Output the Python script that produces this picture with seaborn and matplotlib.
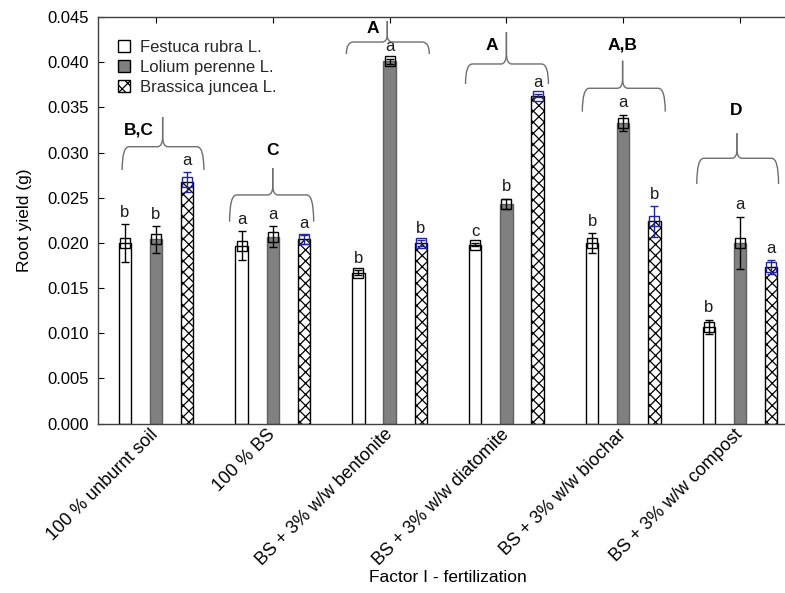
import numpy as np
import pandas as pd
import matplotlib
matplotlib.use("Agg")
import matplotlib.pyplot as plt
from matplotlib.path import Path
from matplotlib.patches import PathPatch, Patch
import seaborn as sns

# ---------------- data ----------------
categories = ["100 % unburnt soil", "100 % BS", "BS + 3% w/w bentonite",
              "BS + 3% w/w diatomite", "BS + 3% w/w biochar", "BS + 3% w/w compost"]
species = ["Festuca rubra L.", "Lolium perenne L.", "Brassica juncea L."]

festuca = [0.0200, 0.0197, 0.0167, 0.0198, 0.0200, 0.0107]
festuca_err = [0.0021, 0.0016, 0.0003, 0.0002, 0.0011, 0.0008]
lolium = [0.0204, 0.0207, 0.0401, 0.0243, 0.0333, 0.0200]
lolium_err = [0.0015, 0.0012, 0.0003, 0.0006, 0.0009, 0.0029]
brassica = [0.0267, 0.0204, 0.0200, 0.0363, 0.0224, 0.0173]
brassica_err = [0.0011, 0.0005, 0.0003, 0.0002, 0.0017, 0.0008]

festuca_letters = ["b", "a", "b", "c", "b", "b"]
lolium_letters = ["b", "a", "a", "b", "a", "a"]
brassica_letters = ["a", "a", "b", "a", "b", "a"]

group_labels = ["B,C", "C", "A", "A", "A,B", "D"]

# ---------------- styling / layout ----------------
sns.set_theme(style="white")
plt.rcParams["font.family"] = ["Liberation Sans", "DejaVu Sans"]
plt.rcParams["hatch.linewidth"] = 0.9
plt.rcParams["hatch.color"] = "black"

df = pd.DataFrame({
    "Factor": np.repeat(categories, 3),
    "Species": species * len(categories),
    "Yield": np.ravel(np.column_stack([festuca, lolium, brassica])),
})

fig = plt.figure(figsize=(7.85, 5.93), dpi=100)
ax = fig.add_axes([97.6 / 785, 1 - 423.5 / 593, 700.8 / 785, 406.5 / 593])

face_colors = ["white", "#808080", "white"]
edge_colors = ["black", "#606060", "black"]
hatches = [None, None, "xxx"]

sns.barplot(data=df, x="Factor", y="Yield", hue="Species", order=categories,
            hue_order=species, palette=face_colors, width=0.8, gap=0.6,
            errorbar=None, legend=False, ax=ax, saturation=1)

for cont, fc, ec, h in zip(ax.containers, face_colors, edge_colors, hatches):
    for bar in cont:
        bar.set_facecolor(fc)
        bar.set_edgecolor(ec)
        bar.set_linewidth(1.0)
        if h:
            bar.set_hatch(h)

means = [festuca, lolium, brassica]
errs = [festuca_err, lolium_err, brassica_err]
letters = [festuca_letters, lolium_letters, brassica_letters]
err_colors = ["black", "black", "#24249a"]
offsets = [-0.8 / 3, 0.0, 0.8 / 3]
xpos = np.arange(len(categories))

for m, e, lt, c, off in zip(means, errs, letters, err_colors, offsets):
    ax.errorbar(xpos + off, m, yerr=e, fmt="s", mfc="none", mec=c, ecolor=c,
                ms=6.5, mew=1.0, capsize=3, elinewidth=1.0, capthick=1.0, zorder=5)
    for xi, mi, ei, li in zip(xpos + off, m, e, lt):
        ax.annotate(li, (xi, mi + ei), xytext=(0, 3), textcoords="offset points",
                    ha="center", va="bottom", fontsize=12, color="#1c1c1c")

# braces (annotation geometry)
brace_left = [-0.29, -0.37, -0.37, -0.35, -0.35, -0.37]
brace_right = [0.41, 0.35, 0.34, 0.36, 0.36, 0.33]
brace_peak = [0.057, 0.0, -0.02, 0.0, -0.005, -0.026]
brace_end_y = [0.02806, 0.02234, 0.04090, 0.03758, 0.03452, 0.02651]
brace_mid_y = [0.03064, 0.02530, 0.04223, 0.03980, 0.03711, 0.02936]
brace_top_y = [0.03393, 0.02828, 0.04456, 0.04334, 0.04016, 0.03213]
label_dx = [-0.143, 0.0, -0.142, -0.121, -0.01, -0.035]
label_y = [0.0325, 0.0302, 0.04378, 0.04182, 0.0419, 0.0347]


def brace(ax, i):
    x0, x1 = i + brace_left[i], i + brace_right[i]
    xm = i + brace_peak[i]
    ye, ym, yt = brace_end_y[i], brace_mid_y[i], brace_top_y[i]
    rx = 0.06
    rp = 0.045
    dy = (yt - ym) * 0.35
    for xa, sgn in ((x0, 1), (x1, -1)):
        verts = [(xa, ye), (xa, ym), (xa + sgn * rx, ym),
                 (xm - sgn * rp, ym), (xm, ym), (xm, ym + dy), (xm, yt)]
        codes = [Path.MOVETO, Path.CURVE3, Path.CURVE3, Path.LINETO,
                 Path.CURVE3, Path.CURVE3, Path.LINETO]
        ax.add_patch(PathPatch(Path(verts, codes), fill=False, ec="#6e6e6e",
                               lw=1.0, zorder=4, clip_on=False))
    ax.text(i + label_dx[i], label_y[i], group_labels[i], ha="center", va="center",
            fontsize=12.5, fontweight="bold", color="black")


for i in range(len(categories)):
    brace(ax, i)

ax.set_xlim(-0.5, 5.5)
ax.set_ylim(0, 0.045)
ax.set_yticks(np.arange(0, 0.0451, 0.005))
ax.set_yticklabels([f"{v:.3f}" for v in np.arange(0, 0.0451, 0.005)], fontsize=12)
ax.set_xticks(xpos)
ax.set_xticklabels(categories, rotation=45, ha="right", va="center",
                   rotation_mode="anchor", fontsize=13)
ax.tick_params(axis="both", direction="in", length=4, width=0.8, color="black",
               top=True, bottom=True, left=True, right=False, labelcolor="black", pad=6)
ax.tick_params(axis="x", pad=6)
for s in ["left", "bottom", "top"]:
    ax.spines[s].set_color("#404040")
    ax.spines[s].set_linewidth(1.0)
ax.spines["right"].set_visible(False)

ax.set_xlabel("Factor I - fertilization", fontsize=12.5, color="black")
ax.set_ylabel("Root yield (g)", fontsize=12.5, color="black")
ax.xaxis.set_label_coords(0.5, -0.36)
ax.yaxis.set_label_coords(-0.094, 0.5)

handles = [
    Patch(facecolor="white", edgecolor="black", lw=1.0),
    Patch(facecolor="#808080", edgecolor="black", lw=1.0),
    Patch(facecolor="white", edgecolor="black", hatch="xxx", lw=1.0),
]
ax.legend(handles, species, loc="upper left", bbox_to_anchor=(0.013, 0.972),
          frameon=False, fontsize=12, handlelength=0.7, handleheight=0.7,
          handletextpad=0.6, labelspacing=0.3, borderaxespad=0.3)

fig.savefig("out.png", dpi=100)
